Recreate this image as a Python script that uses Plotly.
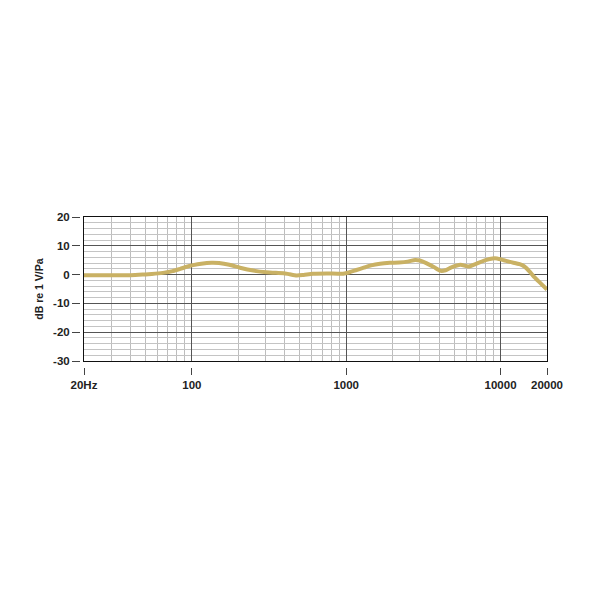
import plotly.graph_objects as go

freq = [20, 30, 40, 48, 55, 65, 75, 84, 95, 102, 115, 134, 150, 175, 205, 250,
        304, 350, 393, 430, 478, 530, 608, 750, 955, 1050, 1166, 1300, 1450,
        1656, 1918, 2200, 2500, 2800, 3000, 3300, 3700, 4100, 4400, 4800, 5500,
        6200, 7000, 8000, 8900, 9500, 10500, 11500, 13300, 14200, 15600, 16500,
        18000, 20000]
level_db = [-0.2, -0.2, -0.2, 0.0, 0.2, 0.6, 1.2, 2.0, 2.9, 3.3, 3.8, 4.1, 4.0,
            3.4, 2.4, 1.4, 0.8, 0.6, 0.5, 0.1, -0.3, -0.1, 0.3, 0.4, 0.3, 0.8,
            1.6, 2.4, 3.2, 3.8, 4.1, 4.2, 4.5, 5.1, 4.9, 4.0, 2.6, 1.3, 1.5, 2.5,
            3.4, 2.8, 3.8, 5.0, 5.6, 5.6, 5.0, 4.4, 3.6, 2.9, 0.8, -0.8, -2.8,
            -5.2]

x_tick_vals = [20, 100, 1000, 10000, 20000]
x_tick_text = ["20Hz", "100", "1000", "10000", "20000"]
x_major = [100, 1000, 10000]
x_minor = [30, 40, 50, 60, 70, 80, 90,
           200, 300, 400, 500, 600, 700, 800, 900,
           2000, 3000, 4000, 5000, 6000, 7000, 8000, 9000]
y_tick_vals = [20, 10, 0, -10, -20, -30]
y_tick_text = ["20", "10", "0", "-10", "-20", "-30"]
y_major = [10, 0, -10, -20]
y_minor = [18, 16, 14, 12, 8, 6, 4, 2, -2, -4, -6, -8, -12, -14, -16, -18,
           -22, -24, -26, -28]

XR = [1.30103, 4.30103]
YR = [-30, 20]
font = dict(family="Liberation Sans, Arial, sans-serif", size=11.5, color="#222", weight="bold")

fig = go.Figure()
fig.add_trace(go.Scatter(x=freq, y=level_db, mode="lines",
                         line=dict(color="#c9b164", width=4, shape="spline", smoothing=0.6),
                         hoverinfo="skip", showlegend=False))
fig.add_trace(go.Scatter(x=freq, y=level_db, mode="lines", xaxis="x2", yaxis="y2",
                         line=dict(color="rgba(0,0,0,0)", width=0),
                         hoverinfo="skip", showlegend=False))

fig.update_layout(
    width=600, height=600,
    margin=dict(l=72, r=61, t=209, b=241),
    paper_bgcolor="white", plot_bgcolor="white",
    font=font,
    xaxis=dict(type="log", range=XR, domain=[4/467, 1], automargin=False,
               tickmode="array", tickvals=x_major, showticklabels=False, ticks="",
               showgrid=True, gridcolor="#555", gridwidth=1,
               minor=dict(tickmode="array", tickvals=x_minor, showgrid=True,
                          gridcolor="#bdbdbd", gridwidth=1, ticks=""),
               showline=True, linecolor="#111", linewidth=1, mirror=True,
               zeroline=False, anchor="y"),
    yaxis=dict(range=YR, domain=[6/150, 1], automargin=False,
               tickmode="array", tickvals=y_major, showticklabels=False, ticks="",
               showgrid=True, gridcolor="#555", gridwidth=1,
               minor=dict(tickmode="array", tickvals=y_minor, showgrid=True,
                          gridcolor="#c4c4c4", gridwidth=1, ticks=""),
               showline=True, linecolor="#111", linewidth=1, mirror=True,
               zeroline=False, anchor="x"),
    xaxis2=dict(type="log", range=XR, overlaying="x", anchor="free", position=0,
                automargin=False,
                tickmode="array", tickvals=x_tick_vals, ticktext=x_tick_text,
                ticks="outside", ticklen=7, tickcolor="#444", tickwidth=1,
                showgrid=False, showline=False, zeroline=False, tickfont=font),
    yaxis2=dict(range=YR, overlaying="y", anchor="free", position=0,
                automargin=False,
                tickmode="array", tickvals=y_tick_vals, ticktext=y_tick_text,
                ticks="outside", ticklen=8, tickcolor="#444", tickwidth=1,
                showgrid=False, showline=False, zeroline=False, tickfont=font,
                title=dict(text="dB re 1 V/Pa", standoff=6,
                           font=dict(family="Liberation Sans, Arial, sans-serif",
                                     size=10.5, color="#222", weight="bold"))),
)

fig.write_html("out.html")
